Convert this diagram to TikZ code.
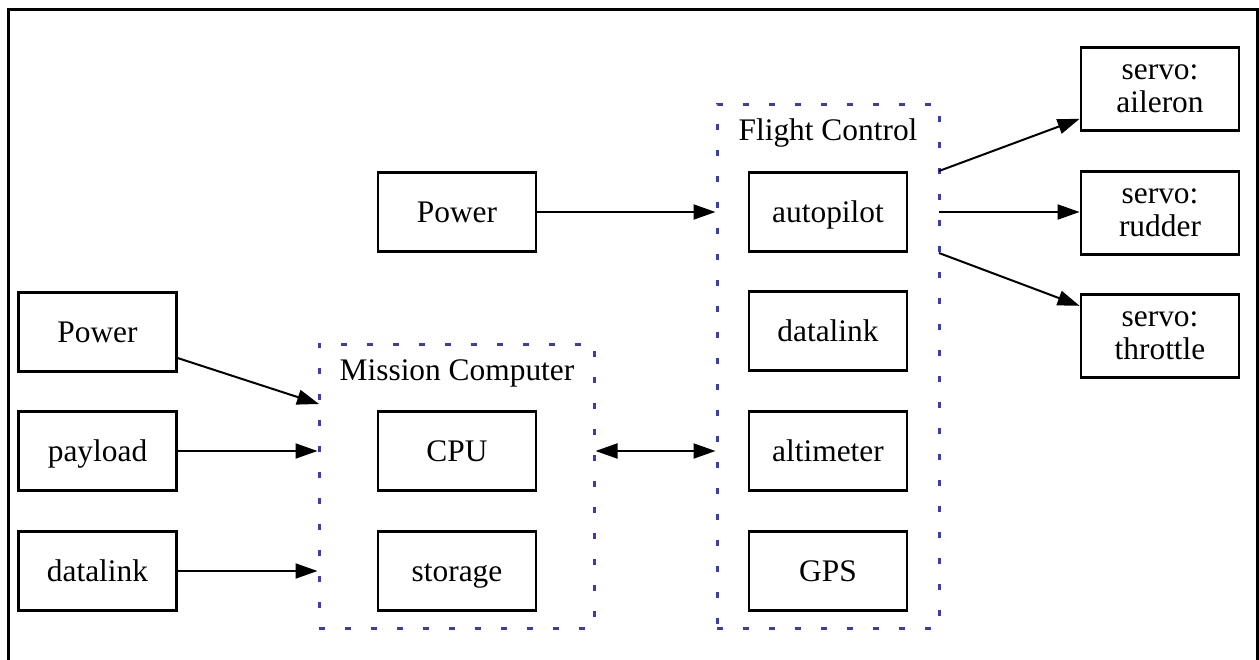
\documentclass[tikz,border=0pt]{standalone}
\usepackage{fontspec}
\setmainfont{Liberation Serif}
\usetikzlibrary{arrows.meta,calc}
\definecolor{clus}{RGB}{60,60,170}
\begin{document}
\begin{tikzpicture}[x=0.5pt,y=-0.5pt,
  basebox/.style={draw,line width=1.4pt,minimum width=79pt,minimum height=39.5pt,inner sep=0pt,align=center,font=\fontsize{15.7}{16.5}\selectfont},
  box/.style={basebox,text height=13pt,text depth=3pt},
  servobox/.style={basebox,minimum height=41.5pt},
  cluster/.style={draw=clus,line width=1.5pt,dash pattern=on 3pt off 10pt,inner sep=0pt},
  lab/.style={font=\fontsize{15.7}{16.5}\selectfont,anchor=base,inner sep=0pt},
  edge/.style={line width=1pt,-{Triangle[length=11pt,width=7.5pt]}},
  biedge/.style={line width=1pt,{Triangle[length=11pt,width=7.5pt]}-{Triangle[length=11pt,width=7.5pt]}},
  frame/.style={line width=1.5pt}]
\useasboundingbox (0,0) rectangle (1259,659);
\draw[frame] (8,690) -- (8,9.5) -- (1257,9.5) -- (1257,690);

% clusters
\node[cluster,minimum width=137.5pt,minimum height=142pt] (mc) at (456.5,486) {};
\node[cluster,minimum width=111pt,minimum height=262pt] (fc) at (828,366) {};
\node[lab] (mclab) at (457,380) {Mission Computer};
\node[lab] (fclab) at (828,140) {Flight Control};

% left column
\node[box] (lpower) at (97.5,332) {Power};
\node[box] (payload) at (97.5,451) {payload};
\node[box] (ldatalink) at (97.5,571) {datalink};

% mission computer
\node[box] (cpu) at (457,451) {CPU};
\node[box] (storage) at (457,571) {storage};

% top power
\node[box] (tpower) at (457,212) {Power};

% flight control
\node[box] (autopilot) at (828,212) {autopilot};
\node[box] (fdatalink) at (828,331) {datalink};
\node[box] (altimeter) at (828,451) {altimeter};
\node[box] (gps) at (828,571) {GPS};

% servos
\node[servobox] (ail) at (1160,89) {servo:\\aileron};
\node[servobox] (rud) at (1160,213) {servo:\\rudder};
\node[servobox] (thr) at (1160,336) {servo:\\throttle};

% edge end points on clusters
\coordinate (mcin) at (319,404);
\coordinate (fa) at (939,171);
\coordinate (fr) at (939,212);
\coordinate (ft) at (939,253);

\draw[edge] (lpower) -- (mcin);
\draw[edge] (payload.east) -- (payload.east -| mc.west);
\draw[edge] (ldatalink.east) -- (ldatalink.east -| mc.west);
\draw[edge] (tpower.east) -- (tpower.east -| fc.west);
\draw[biedge] (cpu.east -| mc.east) -- (altimeter.west -| fc.west);
\draw[edge] (fa) -- (ail);
\draw[edge] (fr) -- (fr -| rud.west);
\draw[edge] (ft) -- (thr);
\end{tikzpicture}
\end{document}
